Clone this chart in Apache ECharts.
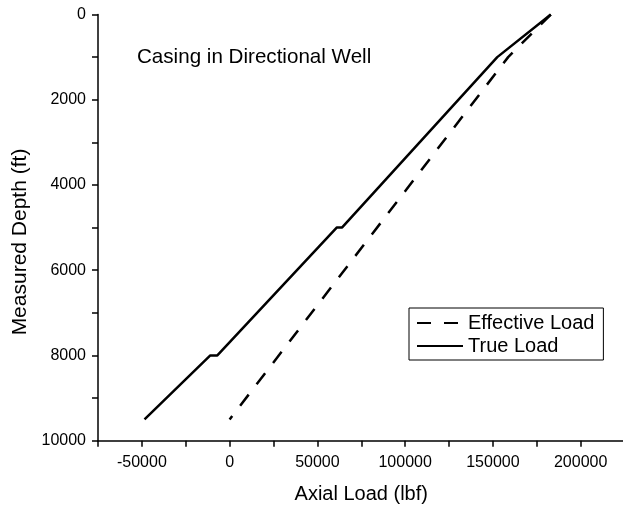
<!DOCTYPE html>
<html>
<head>
<meta charset="utf-8">
<script src="https://cdn.jsdelivr.net/npm/echarts@6/dist/echarts.min.js"></script>
<style>
  html, body { margin: 0; padding: 0; background: #fff; }
  #chart { width: 623px; height: 512px; }
</style>
</head>
<body>
<div id="chart"></div>
<script>
// data: depth in ft, axial load in lbf
const trueDepth = [0, 1000, 5000, 5000, 8000, 8000, 9500];
const trueLoad = [183000, 152500, 64000, 61000, -7000, -11000, -48500];
const effDepth = [0, 1000, 9500];
const effLoad = [183000, 158700, 0];

const FONT = 'Liberation Sans, Arial, sans-serif';

const pairs = (xs, ys) => xs.map((x, i) => [x, ys[i]]);

const chart = echarts.init(document.getElementById('chart'));

chart.setOption({
    animation: false,
    backgroundColor: '#fff',
    title: {
        text: 'Casing in Directional Well',
        left: 137,
        top: 47,
        padding: 0,
        textStyle: { fontFamily: FONT, fontSize: 20.6, fontWeight: 'normal', color: '#000' }
    },
    legend: {
        orient: 'vertical',
        left: 409,
        top: 308,
        padding: [5, 9, 4, 7],
        itemGap: 3,
        itemWidth: 46,
        itemHeight: 14,
        borderColor: '#000',
        borderWidth: 1,
        itemStyle: { opacity: 0 },
        textStyle: { fontFamily: FONT, fontSize: 20, color: '#000' },
        data: ['Effective Load', 'True Load']
    },
    grid: {
        left: 98,
        top: 14.5,
        width: 526.5,
        height: 426.2,
        outerBoundsMode: 'none',
        containLabel: false
    },
    xAxis: {
        type: 'value',
        min: -75000,
        max: 225000,
        interval: 25000,
        name: 'Axial Load (lbf)',
        nameLocation: 'middle',
        nameGap: 44,
        nameTextStyle: { fontFamily: FONT, fontSize: 20, color: '#000' },
        axisLine: { onZero: false, lineStyle: { color: '#000', width: 1.5 } },
        axisTick: { length: 6, lineStyle: { color: '#000', width: 1.5 } },
        axisLabel: {
            margin: 14,
            fontFamily: FONT,
            fontSize: 16,
            color: '#000',
            showMinLabel: true,
            showMaxLabel: true,
            formatter: v => (v % 50000 === 0 && v > -75000 && v < 225000) ? String(v) : ''
        },
        splitLine: { show: false }
    },
    yAxis: {
        type: 'value',
        inverse: true,
        min: 0,
        max: 10000,
        interval: 1000,
        axisLine: { onZero: false, lineStyle: { color: '#000', width: 1.5 } },
        axisTick: { length: 6, lineStyle: { color: '#000', width: 1.5 } },
        axisLabel: {
            margin: 12,
            fontFamily: FONT,
            fontSize: 16,
            color: '#000',
            formatter: v => (v % 2000 === 0) ? String(v) : ''
        },
        splitLine: { show: false }
    },
    graphic: [{
        type: 'text',
        x: 20,
        y: 242,
        rotation: Math.PI / 2,
        style: {
            text: 'Measured Depth (ft)',
            fontFamily: FONT,
            fontSize: 21,
            fill: '#000',
            align: 'center',
            verticalAlign: 'middle'
        }
    }],
    series: [
        {
            name: 'Effective Load',
            type: 'line',
            symbol: 'none',
            data: pairs(effLoad, effDepth),
            lineStyle: { color: '#000', width: 2.5, type: [14, 13] },
            itemStyle: { color: '#000' }
        },
        {
            name: 'True Load',
            type: 'line',
            symbol: 'none',
            data: pairs(trueLoad, trueDepth),
            lineStyle: { color: '#000', width: 2.5, type: 'solid' },
            itemStyle: { color: '#000' }
        }
    ]
});
</script>
</body>
</html>
